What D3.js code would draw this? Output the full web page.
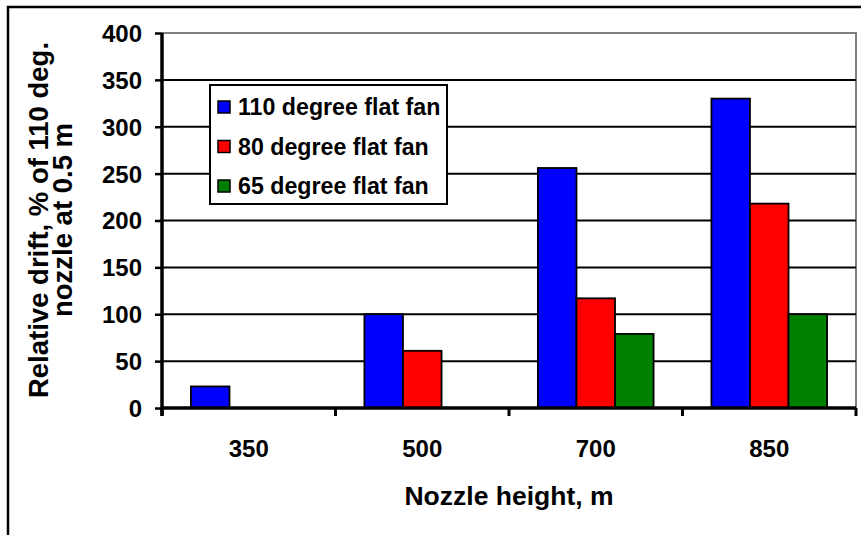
<!DOCTYPE html>
<html>
<head>
<meta charset="utf-8">
<script src="https://cdn.jsdelivr.net/npm/d3@7"></script>
<style>
  html, body { margin: 0; padding: 0; background: #fff; }
  svg { display: block; font-family: "Liberation Sans", Arial, sans-serif; font-weight: bold; }
</style>
</head>
<body>
<svg id="chart" width="861" height="535"></svg>
<script>
const categories = ["350", "500", "700", "850"];
const seriesNames = ["110 degree flat fan", "80 degree flat fan", "65 degree flat fan"];
const series110 = [23, 100, 256, 330];
const series80 = [0, 61, 117, 218];
const series65 = [0, 0, 79, 100];
const seriesColors = ["#0000FF", "#FF0000", "#008000"];
const yTicks = [0, 50, 100, 150, 200, 250, 300, 350, 400];
const xTitle = "Nozzle height, m";
const yTitleLines = ["Relative drift, % of 110 deg.", "nozzle at 0.5 m"];

const seriesValues = [series110, series80, series65];

const svg = d3.select("#chart");
const W = 861, H = 535;
const plot = { left: 162, right: 856, top: 33, bottom: 408 };

// outer frame (extends past right/bottom edge)
svg.append("rect")
  .attr("x", 8).attr("y", 7).attr("width", W + 20).attr("height", H + 20)
  .attr("fill", "#fff").attr("stroke", "#000").attr("stroke-width", 2.5);

const x = d3.scaleBand().domain(categories).range([plot.left, plot.right]).paddingInner(0).paddingOuter(0);
const xs = d3.scaleBand().domain(d3.range(seriesNames.length)).range([0, x.bandwidth()]).paddingInner(0).paddingOuter(0.75);
const y = d3.scaleLinear().domain([0, 400]).range([plot.bottom, plot.top]);

// plot border (gray, top and right)
svg.append("path")
  .attr("d", `M${plot.left},${y(400)}H${plot.right}V${plot.bottom}`)
  .attr("fill", "none").attr("stroke", "#808080").attr("stroke-width", 2);

// gridlines
svg.append("g").selectAll("line")
  .data(yTicks.filter(v => v > 0 && v < 400))
  .join("line")
  .attr("x1", plot.left).attr("x2", plot.right)
  .attr("y1", d => y(d)).attr("y2", d => y(d))
  .attr("stroke", "#000").attr("stroke-width", 2);

// bars
const groups = svg.append("g").selectAll("g")
  .data(categories)
  .join("g")
  .attr("transform", d => `translate(${x(d)},0)`);

groups.selectAll("rect")
  .data((c, ci) => seriesValues.map((vals, si) => ({ si, v: vals[ci] })).filter(d => d.v > 0))
  .join("rect")
  .attr("x", d => xs(d.si))
  .attr("width", xs.bandwidth())
  .attr("y", d => y(d.v))
  .attr("height", d => y(0) - y(d.v))
  .attr("fill", d => seriesColors[d.si])
  .attr("stroke", "#000").attr("stroke-width", 1.8);

// y axis
const yAxis = svg.append("g")
  .attr("transform", `translate(${plot.left},0)`)
  .call(d3.axisLeft(y).tickValues(yTicks).tickSize(7).tickPadding(13).tickFormat(d3.format("d")));
yAxis.select(".domain").attr("stroke", "#000").attr("stroke-width", 3.5)
  .attr("d", `M0,${y(400)}V${y(0) + 8}`);
yAxis.selectAll(".tick line").attr("stroke", "#000").attr("stroke-width", 2.5);
yAxis.selectAll(".tick text")
  .attr("font-size", 24).attr("font-weight", "bold").attr("fill", "#000")
  .attr("font-family", "'Liberation Sans', Arial, sans-serif")
  .attr("dy", "0.35em");

// x axis
const xAxis = svg.append("g")
  .attr("transform", `translate(0,${plot.bottom})`)
  .call(d3.axisBottom(x).tickSize(0).tickPadding(32));
xAxis.select(".domain").attr("stroke", "#000").attr("stroke-width", 3.5)
  .attr("d", `M${plot.left},0H${plot.right}`);
xAxis.selectAll(".tick text")
  .attr("font-size", 24).attr("font-weight", "bold").attr("fill", "#000")
  .attr("font-family", "'Liberation Sans', Arial, sans-serif");

// x tick marks at category boundaries
const boundaries = categories.map(c => x(c)).concat([x(categories[categories.length - 1]) + x.bandwidth()]);
xAxis.append("g").selectAll("line")
  .data(boundaries)
  .join("line")
  .attr("x1", d => d).attr("x2", d => d)
  .attr("y1", 0).attr("y2", 8)
  .attr("stroke", "#000").attr("stroke-width", 3);

// axis titles
svg.append("text")
  .attr("x", (plot.left + plot.right) / 2).attr("y", 505)
  .attr("text-anchor", "middle").attr("font-size", 26.5).attr("fill", "#000")
  .text(xTitle);

const yMid = 220;
const yTitle = svg.append("text")
  .attr("transform", `translate(0,${yMid}) rotate(-90)`)
  .attr("text-anchor", "middle").attr("font-size", 27.5).attr("fill", "#000");
yTitle.selectAll("tspan")
  .data(yTitleLines)
  .join("tspan")
  .attr("x", 0)
  .attr("y", (d, i) => 48 + i * 24)
  .text(d => d);

// legend
const legend = svg.append("g").attr("transform", "translate(210,85)");
legend.append("rect")
  .attr("width", 237).attr("height", 119)
  .attr("fill", "#fff").attr("stroke", "#000").attr("stroke-width", 2);
const items = legend.selectAll("g.item")
  .data(seriesNames)
  .join("g").attr("class", "item")
  .attr("transform", (d, i) => `translate(0,${22 + i * 39.5})`);
items.append("rect")
  .attr("x", 8).attr("y", -6).attr("width", 12).attr("height", 12)
  .attr("fill", (d, i) => seriesColors[i]).attr("stroke", "#000").attr("stroke-width", 1.5);
items.append("text")
  .attr("x", 28).attr("y", 0).attr("dy", "0.35em")
  .attr("font-size", 23.2).attr("fill", "#000")
  .text(d => d);
</script>
</body>
</html>
